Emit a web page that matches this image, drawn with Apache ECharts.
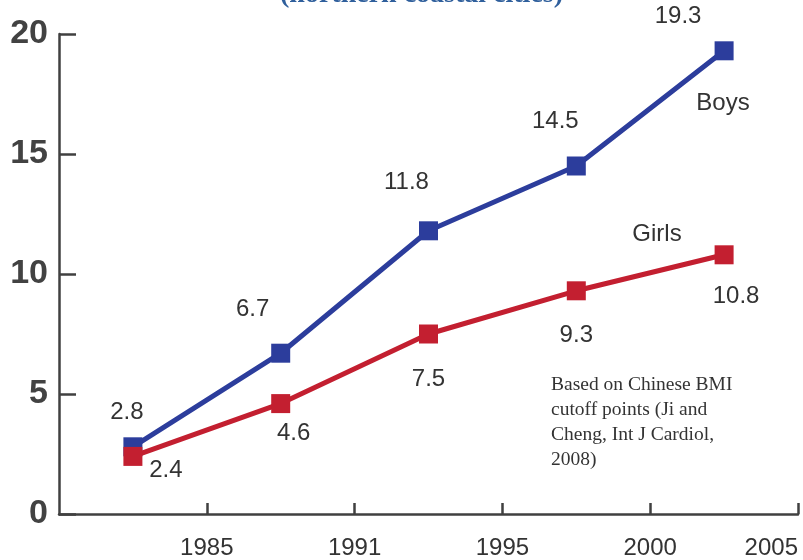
<!DOCTYPE html>
<html>
<head>
<meta charset="utf-8">
<script src="https://cdn.jsdelivr.net/npm/echarts@6/dist/echarts.min.js"></script>
<style>
  html, body { margin: 0; padding: 0; background: #fff; }
  #chart { width: 803px; height: 560px; }
</style>
</head>
<body>
<div id="chart"></div>
<script>
// Survey years shown under the x axis (one per tick boundary)
const yearLabels = ['1985', '1991', '1995', '2000', '2005'];
// Prevalence values (%) per survey, in order
const boysValues = [2.8, 6.7, 11.8, 14.5, 19.3];
const girlsValues = [2.4, 4.6, 7.5, 9.3, 10.8];
const yTicks = [0, 5, 10, 15, 20];

// Placement of each value label relative to its marker (px)
const boysLabelShift = [[-6, -34], [-28, -44], [-22, -48], [-21, -45], [-46, -34]];
const girlsLabelShift = [[33, 14], [13, 30], [0, 45], [0, 45], [12, 42]];

const BLUE = '#2c3d9c';
const RED = '#c31f30';
const AXIS = '#404040';
const TEXT = '#333333';

// Each survey sits in the middle of its band on the x axis
const toPoints = (vals, shifts) => vals.map((v, i) => ({
  value: [i + 0.5, v],
  label: { offset: shifts[i] }
}));

const chart = echarts.init(document.getElementById('chart'), null, { renderer: 'canvas' });

const valueLabel = {
  show: true,
  position: 'inside',
  color: TEXT,
  fontSize: 24,
  fontFamily: 'Liberation Sans, Arial, sans-serif',
  formatter: p => p.value[1].toFixed(1)
};

chart.setOption({
  animation: false,
  grid: { left: 59, right: 5, top: 34, bottom: 45, containLabel: false },
  xAxis: {
    type: 'value',
    min: 0,
    max: yearLabels.length,
    interval: 1,
    splitLine: { show: false },
    axisLine: { show: true, lineStyle: { color: AXIS, width: 2.5 } },
    axisTick: { show: true, inside: true, length: 11, lineStyle: { color: AXIS, width: 2.5 } },
    axisLabel: {
      showMinLabel: false,
      alignMaxLabel: 'right',
      margin: 22,
      color: TEXT,
      fontSize: 24,
      fontFamily: 'Liberation Sans, Arial, sans-serif',
      formatter: v => (v >= 1 ? yearLabels[v - 1] : '')
    }
  },
  yAxis: {
    type: 'value',
    min: yTicks[0],
    max: yTicks[yTicks.length - 1],
    interval: yTicks[1] - yTicks[0],
    splitLine: { show: false },
    axisLine: { show: true, lineStyle: { color: AXIS, width: 2.5 } },
    axisTick: { show: true, inside: true, length: 17, lineStyle: { color: AXIS, width: 2.5 } },
    axisLabel: {
      margin: 11,
      color: '#424242',
      fontSize: 34,
      fontWeight: 'bold',
      fontFamily: 'Liberation Sans, Arial, sans-serif'
    }
  },
  series: [
    {
      name: 'Girls',
      type: 'line',
      data: toPoints(girlsValues, girlsLabelShift),
      symbol: 'rect',
      symbolSize: 19,
      itemStyle: { color: RED },
      lineStyle: { color: RED, width: 5 },
      label: valueLabel,
      z: 2
    },
    {
      name: 'Boys',
      type: 'line',
      data: toPoints(boysValues, boysLabelShift),
      symbol: 'rect',
      symbolSize: 19,
      itemStyle: { color: BLUE },
      lineStyle: { color: BLUE, width: 5 },
      label: valueLabel,
      z: 1
    }
  ],
  graphic: [
    {
      type: 'text',
      left: 280,
      top: -19,
      style: {
        text: '(northern coastal cities)',
        fill: '#2f5f9c',
        font: 'bold 28px "Liberation Serif", serif'
      }
    },
    {
      type: 'text',
      x: 723, y: 103,
      style: {
        text: 'Boys', fill: TEXT, align: 'center', verticalAlign: 'middle',
        font: '24px "Liberation Sans", Arial, sans-serif'
      }
    },
    {
      type: 'text',
      x: 657, y: 234,
      style: {
        text: 'Girls', fill: TEXT, align: 'center', verticalAlign: 'middle',
        font: '24px "Liberation Sans", Arial, sans-serif'
      }
    },
    {
      type: 'text',
      x: 551, y: 372,
      style: {
        text: 'Based on Chinese BMI\ncutoff points (Ji and\nCheng, Int J Cardiol,\n2008)',
        fill: TEXT,
        lineHeight: 25,
        font: '19.5px "Liberation Serif", serif'
      }
    }
  ]
});
</script>
</body>
</html>
